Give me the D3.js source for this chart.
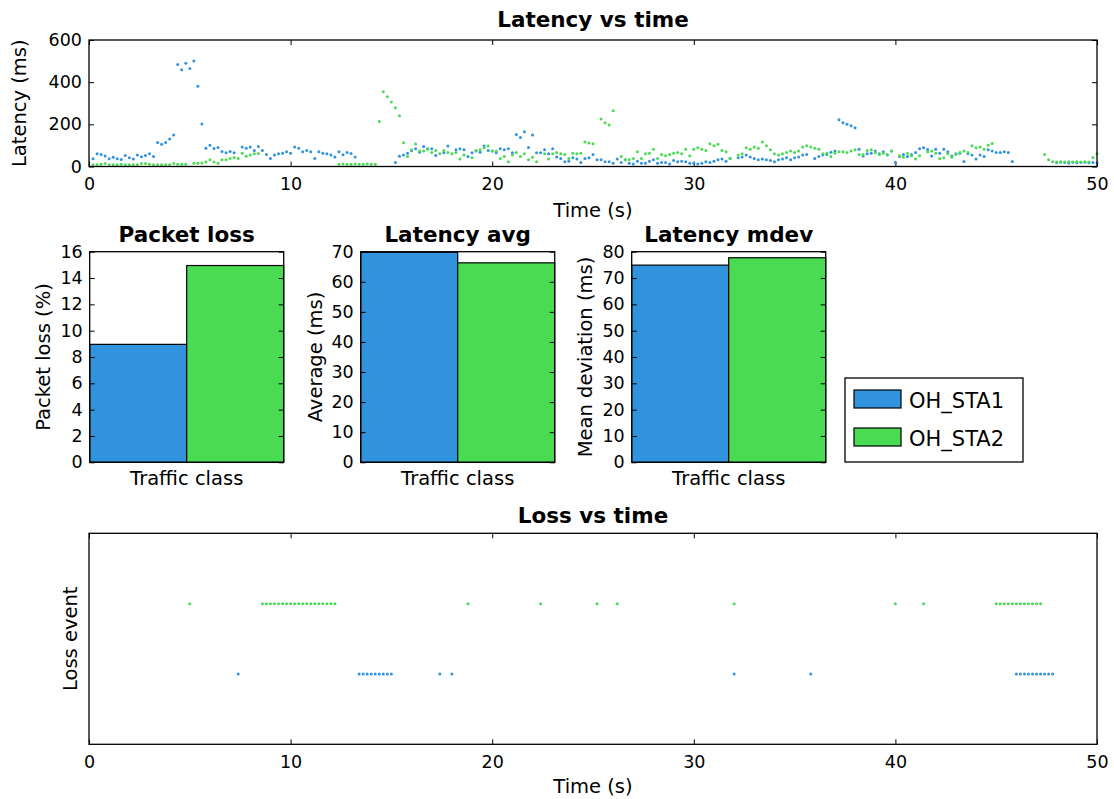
<!DOCTYPE html>
<html lang="en">
<head>
<meta charset="UTF-8">
<title>Latency report</title>
<style>
    html,body{
        margin: 0;
        padding: 0;
        background: #fff;
    }
    svg{
        display: block;
        font-family: "DejaVu Sans", sans-serif;
    }
</style>
</head>
<body>
<div id="chart"></div>
<script src="https://d3js.org/d3.v7.min.js"></script>
<script>
    // ping samples every 0.2 s, first one at 0.2 s; null = lost packet
    const sampleStep = 0.2
    const stations = ['OH_STA1', 'OH_STA2']
    const colors = ['#3193de', '#49dc52']

    const sta1Latency = [
        37,60,57,50,37,44,37,33,52,41,36,54,46,52,60,48,114,105,114,131,149,484,459,490,465,500,381,201,86,101,85,90,71,65,71,65,
        null,
        93,86,93,76,95,76,57,38,55,60,63,70,63,93,86,70,76,70,38,70,63,60,54,45,
        70,56,66,62,45,
        null,null,null,null,null,null,null,null,null,
        19,49,54,63,75,84,68,95,84,84,52,
        null,
        65,97,
        null,
        80,84,80,48,65,73,67,97,76,73,65,84,80,84,65,152,138,165,90,150,65,65,80,60,84,45,38,22,25,41,35,19,38,41,57,
        32,32,22,22,15,35,19,32,15,12,25,15,15,25,32,15,19,19,12,28,22,25,22,15,15,12,15,22,19,25,32,35,25,38,
        null,
        41,45,54,45,38,32,35,32,28,22,32,35,41,32,41,45,54,57,
        null,
        38,48,54,57,67,73,222,208,200,193,184,
        82,50,60,63,73,60,70,54,73,19,48,57,48,57,66,84,89,81,50,82,63,82,70,50,60,63,24,60,55,36,54,48,79,73,66,66,70,66,24,
        null,null,null,null,null,null,null,null,null,null,
        18,20,19,17,20,18,19,20,18,19,17
    ]
    const sta2Latency = [
        8,8,11,14,8,8,8,11,8,8,8,8,14,14,11,8,8,8,8,8,14,11,11,11,
        null,
        16,16,17,21,32,21,16,32,32,38,43,38,63,49,54,60,62,
        null,null,null,null,null,null,null,null,null,null,null,null,null,null,null,null,null,null,null,
        11,12,11,11,12,11,11,12,11,11,
        213,354,331,306,279,241,113,48,80,107,73,73,82,66,76,60,76,66,60,66,35,54,
        null,
        41,76,79,89,97,73,73,38,48,22,54,66,48,60,32,44,22,
        null,
        60,35,60,66,60,57,38,63,60,63,116,111,108,
        null,
        225,208,197,265,
        null,
        48,32,32,38,70,38,60,63,82,38,57,51,57,63,66,60,82,51,82,89,82,76,108,98,105,76,70,38,
        null,
        54,60,89,82,92,86,116,98,79,60,54,60,66,73,66,73,92,98,92,86,82,60,63,48,63,70,70,66,73,79,57,57,76,79,66,57,63,57,73,
        null,
        51,44,63,51,35,51,
        null,
        70,73,63,38,41,60,44,57,66,73,66,98,89,92,82,101,109,
        null,null,null,null,null,null,null,null,null,null,null,null,
        57,32,22,21,22,21,22,21,22,21,22,21,43,60
    ]

    const packetLoss = [8.96, 14.95]     // %
    const latencyAvg = [69.8, 66.3]      // ms
    const latencyMdev = [74.9, 77.7]     // ms

    const timeTicks = [0, 10, 20, 30, 40, 50]
    const latencyTicks = [0, 200, 400, 600]
    const lossTicks = d3.range(0, 17, 2)
    const avgTicks = d3.range(0, 71, 10)
    const mdevTicks = d3.range(0, 81, 10)

    const series = [sta1Latency, sta2Latency]
    const t = i => +((i + 1) * sampleStep).toFixed(1)

    const [width, height] = [1114, 799]
    const svg = d3.select('#chart').append('svg')
        .attr('width', width)
        .attr('height', height)
    svg.append('rect').attr('width', width).attr('height', height).attr('fill', '#fff')

    const tickFont = 17.5, labelFont = 19.5, titleFont = 21.5

    function styleAxis(g, noLabels) {
        g.select('.domain').remove()
        g.selectAll('.tick line').attr('stroke', '#000').attr('stroke-width', 1)
        g.selectAll('.tick text')
            .attr('fill', '#000')
            .style('font-size', tickFont + 'px')
            .style('font-family', '"DejaVu Sans", sans-serif')
        if (noLabels) g.selectAll('.tick text').remove()
    }

    function frame(x0, y0, x1, y1) {
        svg.append('rect')
            .attr('x', x0).attr('y', y0)
            .attr('width', x1 - x0).attr('height', y1 - y0)
            .attr('fill', 'none')
            .attr('stroke', '#000')
            .attr('stroke-width', 1.3)
    }

    function text(str, x, y, size, opts = {}) {
        const el = svg.append('text')
            .attr('text-anchor', opts.anchor || 'middle')
            .attr('fill', '#000')
            .style('font-size', size + 'px')
            .style('font-weight', opts.bold ? 'bold' : 'normal')
            .text(str)
        if (opts.rotate) el.attr('transform', `translate(${x},${y}) rotate(-90)`)
        else el.attr('x', x).attr('y', y)
        return el
    }

    // ---------- Latency vs time ----------
    const latBox = {l: 89, r: 1097, t: 40, b: 166.5}
    const x = d3.scaleLinear().domain([0, 50]).range([latBox.l, latBox.r])
    const yLat = d3.scaleLinear().domain([0, 600]).range([latBox.b, latBox.t])

    svg.append('g').attr('transform', `translate(0,${latBox.b})`)
        .call(d3.axisBottom(x).tickValues(timeTicks).tickSize(-5).tickPadding(11))
        .call(g => styleAxis(g))
    svg.append('g').attr('transform', `translate(0,${latBox.t})`)
        .call(d3.axisTop(x).tickValues(timeTicks).tickSize(-5))
        .call(g => styleAxis(g, true))
    svg.append('g').attr('transform', `translate(${latBox.l},0)`)
        .call(d3.axisLeft(yLat).tickValues(latencyTicks).tickSize(-5).tickPadding(7))
        .call(g => styleAxis(g))
    svg.append('g').attr('transform', `translate(${latBox.r},0)`)
        .call(d3.axisRight(yLat).tickValues(latencyTicks).tickSize(-5))
        .call(g => styleAxis(g, true))

    series.forEach((vals, s) => {
        svg.append('g').selectAll('circle')
            .data(vals.map((v, i) => [t(i), v]).filter(d => d[1] !== null))
            .join('circle')
            .attr('cx', d => x(d[0]))
            .attr('cy', d => yLat(d[1]))
            .attr('r', 1.5)
            .attr('fill', colors[s])
    })
    frame(latBox.l, latBox.t, latBox.r, latBox.b)

    text('Latency vs time', (latBox.l + latBox.r) / 2, 26.5, titleFont, {bold: true})
    text('Time (s)', (latBox.l + latBox.r) / 2, 217, labelFont)
    text('Latency (ms)', 26, (latBox.t + latBox.b) / 2, labelFont, {rotate: true})

    // ---------- bar panels ----------
    const bars = {t: 251.7, b: 462.3, w: 194}
    function barPanel(left, title, values, yMax, ticks, ylabel, labelX) {
        const bx = d3.scaleBand().domain(stations).range([left, left + bars.w])
        const by = d3.scaleLinear().domain([0, yMax]).range([bars.b, bars.t])

        svg.append('g').selectAll('rect')
            .data(values)
            .join('rect')
            .attr('x', (d, i) => bx(stations[i]))
            .attr('y', d => by(d))
            .attr('width', bx.bandwidth())
            .attr('height', d => by(0) - by(d))
            .attr('fill', (d, i) => colors[i])
            .attr('stroke', '#000')
            .attr('stroke-width', 1.2)

        svg.append('g').attr('transform', `translate(${left},0)`)
            .call(d3.axisLeft(by).tickValues(ticks).tickSize(-5).tickPadding(7))
            .call(g => styleAxis(g))
        svg.append('g').attr('transform', `translate(${left + bars.w},0)`)
            .call(d3.axisRight(by).tickValues(ticks).tickSize(-5))
            .call(g => styleAxis(g, true))
        frame(left, bars.t, left + bars.w, bars.b)

        text(title, left + bars.w / 2, 241.5, titleFont, {bold: true})
        text('Traffic class', left + bars.w / 2, 485, labelFont)
        text(ylabel, labelX, (bars.t + bars.b) / 2, labelFont, {rotate: true})
    }
    barPanel(89.7, 'Packet loss', packetLoss, 16, lossTicks, 'Packet loss (%)', 50)
    barPanel(360.7, 'Latency avg', latencyAvg, 70, avgTicks, 'Average (ms)', 322)
    barPanel(631.7, 'Latency mdev', latencyMdev, 80, mdevTicks, 'Mean deviation (ms)', 592)

    // legend
    const leg = svg.append('g')
    leg.append('rect')
        .attr('x', 845).attr('y', 378)
        .attr('width', 178).attr('height', 84)
        .attr('fill', '#fff').attr('stroke', '#000').attr('stroke-width', 1.3)
    stations.forEach((name, i) => {
        const yy = 390 + i * 38
        leg.append('rect')
            .attr('x', 854).attr('y', yy)
            .attr('width', 47).attr('height', 18)
            .attr('fill', colors[i]).attr('stroke', '#000').attr('stroke-width', 1.2)
        leg.append('text')
            .attr('x', 909).attr('y', yy + 18)
            .attr('fill', '#000')
            .style('font-size', '21px')
            .text(name)
    })

    // ---------- Loss vs time ----------
    const bot = {l: 89, r: 1097, t: 533.3, b: 744.3}
    const yLoss = d3.scaleLinear().domain([0, 3]).range([bot.b, bot.t])
    const xb = x.copy()

    svg.append('g').attr('transform', `translate(0,${bot.b})`)
        .call(d3.axisBottom(xb).tickValues(timeTicks).tickSize(-5).tickPadding(11))
        .call(g => styleAxis(g))
    svg.append('g').attr('transform', `translate(0,${bot.t})`)
        .call(d3.axisTop(xb).tickValues(timeTicks).tickSize(-5))
        .call(g => styleAxis(g, true))

    // loss events are the samples with no reply: OH_STA1 on level 1, OH_STA2 on level 2
    series.forEach((vals, s) => {
        svg.append('g').selectAll('circle')
            .data(vals.map((v, i) => [t(i), v]).filter(d => d[1] === null))
            .join('circle')
            .attr('cx', d => xb(d[0]))
            .attr('cy', yLoss(s + 1))
            .attr('r', 1.5)
            .attr('fill', colors[s])
    })
    frame(bot.l, bot.t, bot.r, bot.b)

    text('Loss vs time', (bot.l + bot.r) / 2, 522.5, titleFont, {bold: true})
    text('Time (s)', (bot.l + bot.r) / 2, 793, labelFont)
    text('Loss event', 77, (bot.t + bot.b) / 2, labelFont, {rotate: true})
</script>
</body>
</html>
